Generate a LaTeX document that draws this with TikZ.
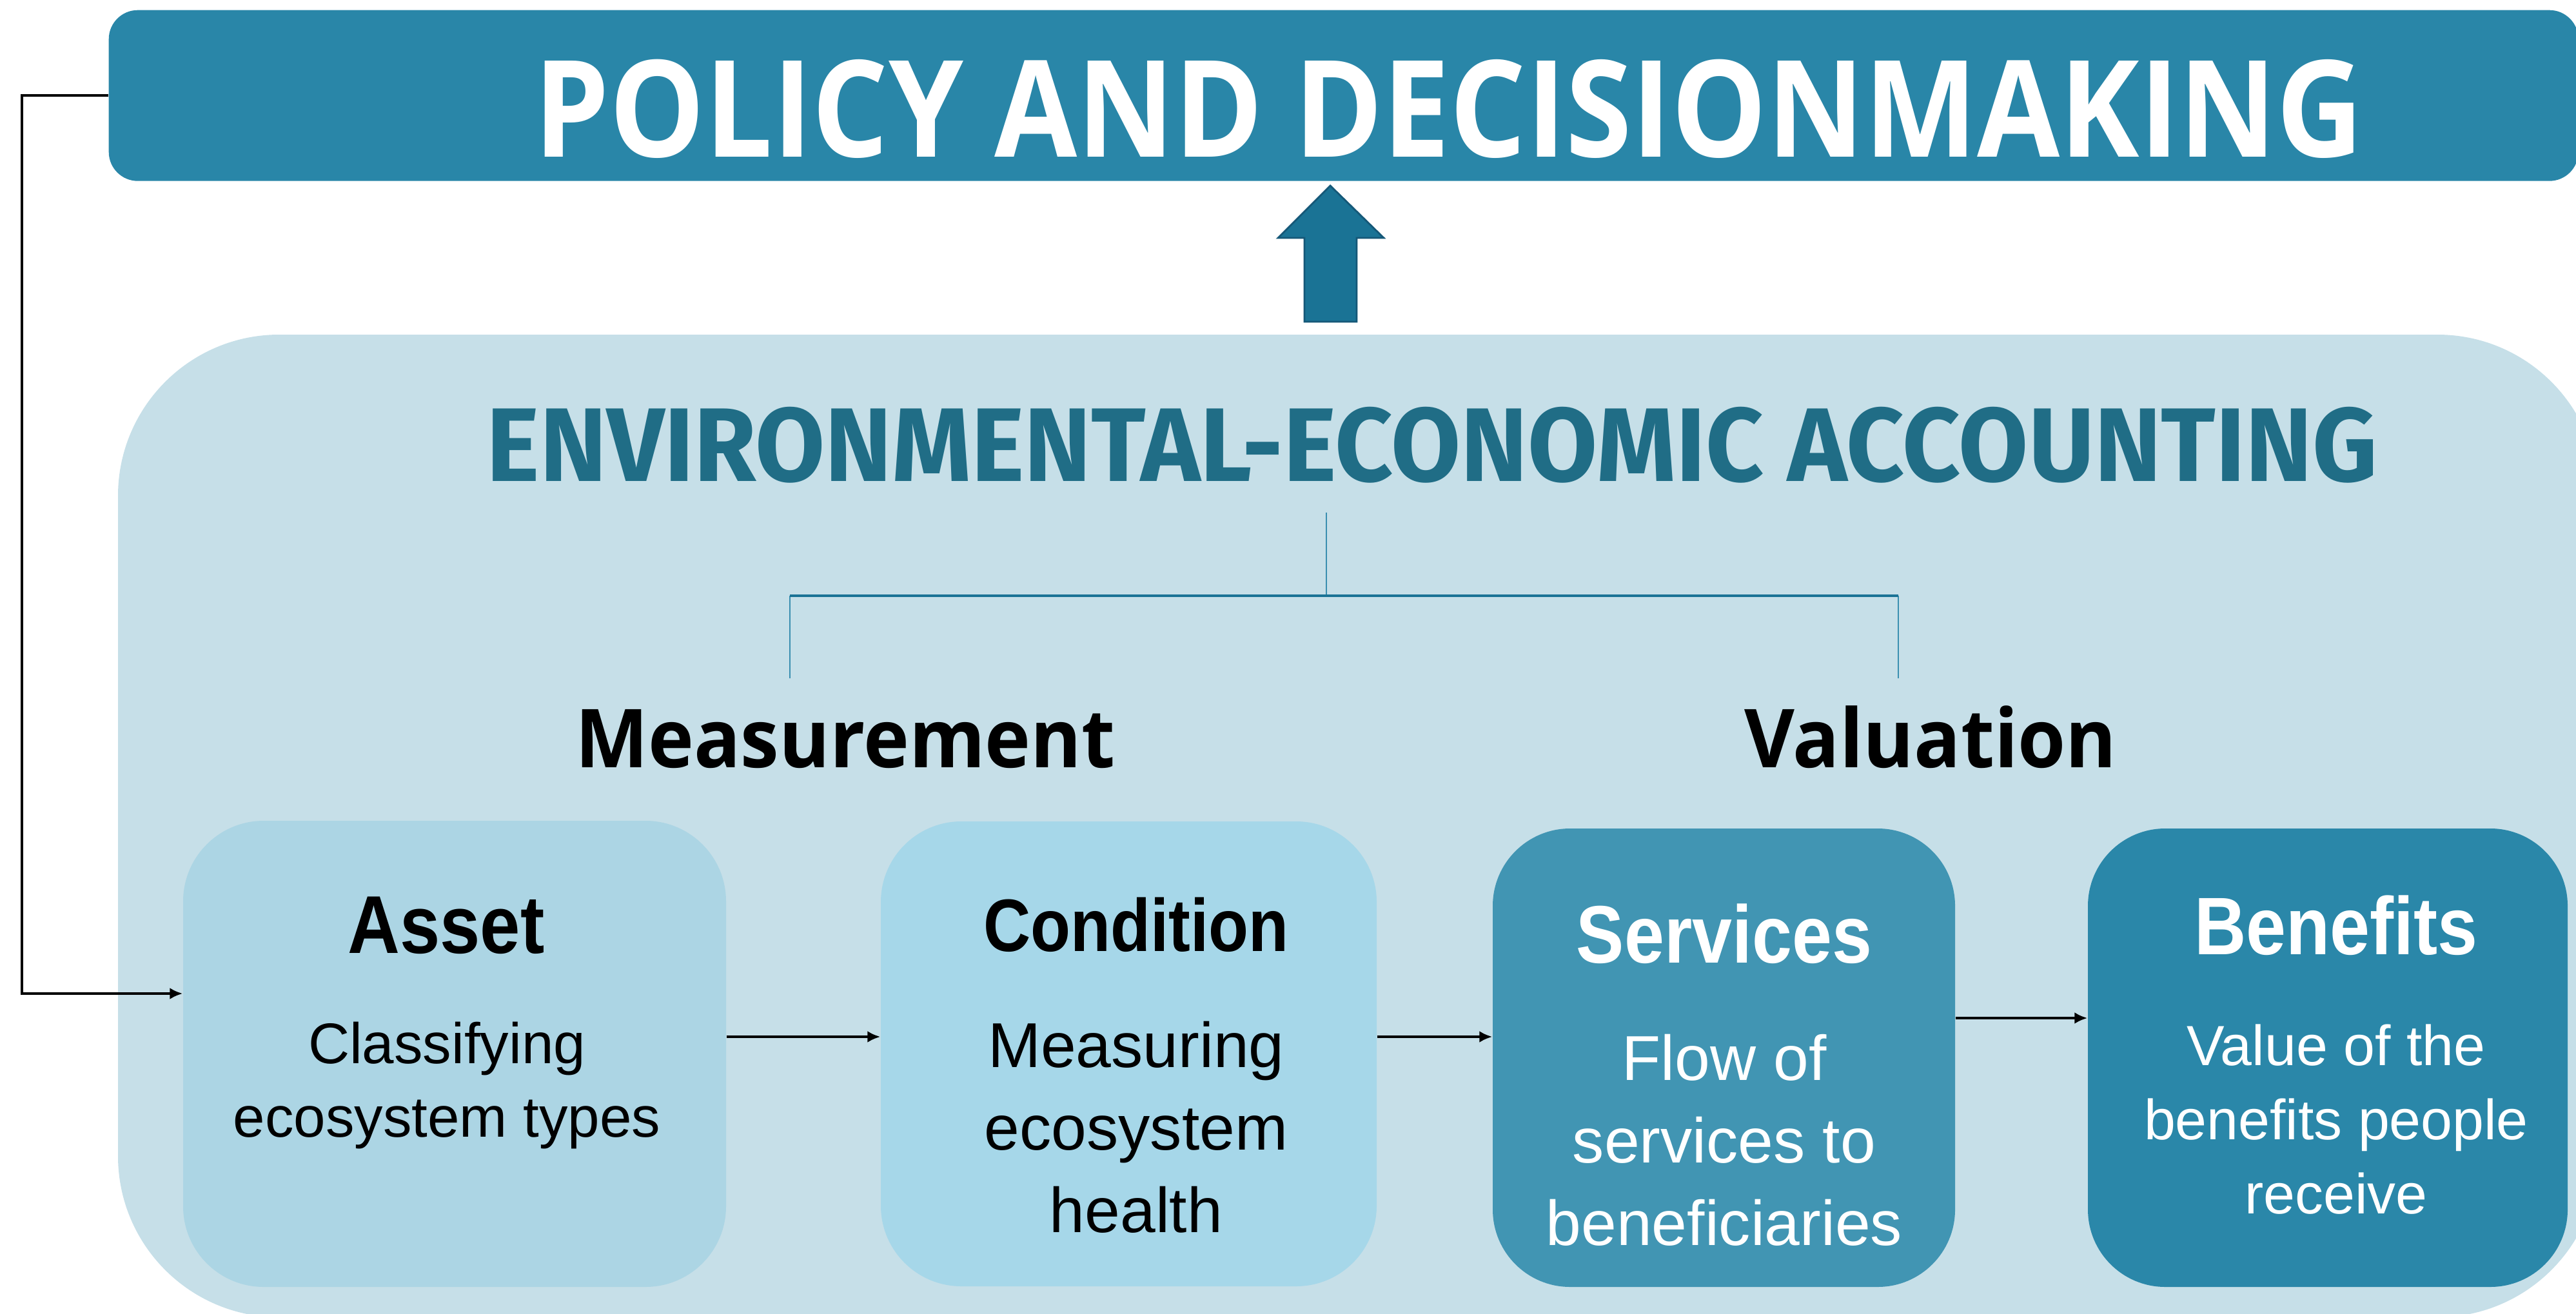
\documentclass[tikz,border=0pt]{standalone}
\usepackage{fontspec}
\usetikzlibrary{positioning,calc,arrows.meta}
\newfontfamily\headfont[FakeStretch=0.89]{Open Sans}
\newfontfamily\groupfont[FakeStretch=0.95]{Open Sans}
\newfontfamily\envfont[FakeStretch=0.965]{Fira Sans}
\newfontfamily\boxfont{Liberation Sans}
\newfontfamily\boxheadfont[FakeStretch=0.88]{Liberation Sans}
\definecolor{bannerblue}{HTML}{2986A8}
\definecolor{arrowblue}{HTML}{1A7395}
\definecolor{arrowedge}{HTML}{155878}
\definecolor{panelblue}{HTML}{C6DFE8}
\definecolor{assetblue}{HTML}{ACD5E4}
\definecolor{condblue}{HTML}{A6D7E9}
\definecolor{servblue}{HTML}{4195B3}
\definecolor{benefblue}{HTML}{2A87A9}
\definecolor{titleteal}{HTML}{206D86}
\definecolor{bracketblue}{HTML}{3A8FB0}

\begin{document}
\begin{tikzpicture}[
    box/.style={rectangle, rounded corners=12mm, inner sep=0pt},
    conn/.style={line width=1.2pt, -{Latex[length=2mm,width=1.8mm]}},
    brk/.style={bracketblue, line width=0.8pt},
    headtext/.style={anchor=base, font={\boxheadfont\bfseries\fontsize{36}{40}\selectfont}},
    subtext/.style={anchor=base, align=center, font={\boxfont\fontsize{28}{36.4}\selectfont}}
  ]
    \useasboundingbox (0,0) rectangle (39.95,-20.38);
    \clip (0,0) rectangle (39.95,-20.38);
    \fill[panelblue, rounded corners=25mm] (1.83,-5.19) rectangle (40.3,-20.43);
    \node[box, fill=bannerblue, rounded corners=4.5mm, minimum width=38.3cm, minimum height=2.65cm, anchor=north west] (policy) at (1.68,-0.15) {};
    \node[anchor=base, text=white, font={\headfont\bfseries\fontsize{59.4}{60}\selectfont}] (policytext) at (22.47,-2.43) {POLICY AND DECISIONMAKING};
    \fill[arrowblue, draw=arrowedge, line width=0.8pt] (20.63,-2.88) -- (21.46,-3.69) -- (21.04,-3.69) -- (21.04,-4.99) -- (20.23,-4.99) -- (20.23,-3.69) -- (19.82,-3.69) -- cycle;
    \node[anchor=base, text=titleteal, font={\envfont\bfseries\fontsize{46.2}{48}\selectfont}] (envtitle) at (22.21,-7.46) {ENVIRONMENTAL-ECONOMIC ACCOUNTING};

    \coordinate (brtop) at (20.57,-7.95);
    \coordinate (brmid) at (20.57,-9.24);
    \coordinate (brleft) at (12.25,-10.52);
    \coordinate (brright) at (29.44,-10.52);
    \draw[brk] (brtop) -- (brmid);
    \draw[brk] (brleft) -- (brleft |- brmid);
    \draw[brk] (brright) -- (brright |- brmid);
    \draw[arrowblue, line width=1.3pt] (brleft |- brmid) -- (brright |- brmid);

    \node[anchor=base, font={\groupfont\bfseries\fontsize{35.9}{36}\selectfont}] (measure) at (13.11,-11.90) {Measurement};
    \node[anchor=base, font={\groupfont\bfseries\fontsize{35.9}{36}\selectfont}] (valuation) at (29.94,-11.90) {Valuation};

    \node[box, fill=assetblue, rounded corners=12.5mm, minimum width=8.42cm, minimum height=7.23cm] (asset) at (7.05,-16.345) {};
    \node[box, fill=condblue, rounded corners=12.5mm, minimum width=7.69cm, minimum height=7.21cm] (cond) at (17.505,-16.345) {};
    \node[box, fill=servblue, minimum width=7.17cm, minimum height=7.11cm] (serv) at (26.735,-16.405) {};
    \node[box, fill=benefblue, minimum width=7.44cm, minimum height=7.11cm] (benef) at (36.10,-16.405) {};

    % multi-line texts sit on the baseline of their last line
    \node[headtext, font={\boxheadfont\bfseries\fontsize{36.2}{40}\selectfont}] (assethead) at (6.92,-14.78) {Asset};
    \node[subtext, font={\boxfont\fontsize{25.3}{32.4}\selectfont}] (assettext) at (6.93,-17.63) {Classifying\\ecosystem types};
    \node[headtext, font={\boxheadfont\bfseries\fontsize{32.8}{40}\selectfont}] (condhead) at (17.62,-14.75) {Condition};
    \node[subtext] (condtext) at (17.62,-19.11) {Measuring\\ecosystem\\health};
    \node[headtext, text=white] (servhead) at (26.74,-14.93) {Services};
    \node[subtext, text=white] (servtext) at (26.74,-19.31) {Flow of\\services to\\beneficiaries};
    \node[headtext, text=white] (benefhead) at (36.23,-14.80) {Benefits};
    \node[subtext, text=white, font={\boxfont\fontsize{25}{32.7}\selectfont}] (beneftext) at (36.23,-18.82) {Value of the\\benefits people\\receive};

    \draw[conn] ([yshift=2.65mm]asset.east) -- ([yshift=2.65mm]cond.west);
    \draw[conn] ([yshift=2.65mm]cond.east) -- ([yshift=2.65mm]cond.east -| serv.west);
    \draw[conn] ([yshift=6.15mm]serv.east) -- ([yshift=6.15mm]benef.west);
    \draw[conn] (policy.west) -- ++(-1.34,0) |- ([yshift=9.35mm]asset.west);
  \end{tikzpicture}
\end{document}
